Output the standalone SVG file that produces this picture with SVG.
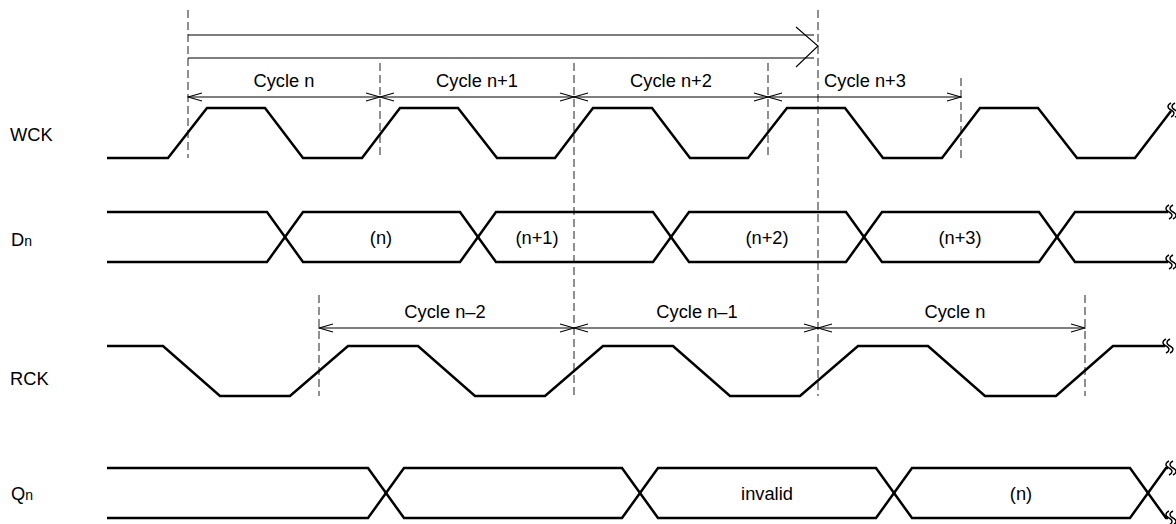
<svg xmlns="http://www.w3.org/2000/svg" width="1176" height="524" viewBox="0 0 1176 524">
<style>
  .sig{fill:none;stroke:#000;stroke-width:2.5;stroke-linejoin:miter}
  .dash{stroke:#555;stroke-width:1.3;stroke-dasharray:8 4;fill:none}
  .dim{stroke:#000;stroke-width:1.1;fill:none;marker-start:url(#oa);marker-end:url(#oa)}
  .brk{fill:none;stroke:#000;stroke-width:1.4}
  text{font-family:"Liberation Sans",Arial,sans-serif;font-size:18.3px;fill:#000}
  .mid{text-anchor:middle}
</style>
<defs>
  <marker id="oa" viewBox="-15 -5 16 10" refX="0" refY="0" markerWidth="16" markerHeight="10" markerUnits="userSpaceOnUse" orient="auto-start-reverse">
    <path d="M-14,-4 L0,0 L-14,4" fill="none" stroke="#000" stroke-width="1.1"/>
  </marker>
  <path id="sq" d="M1,-7 c-4,2 -4,5 0,7 c4,2 4,5 0,7 M5,-7 c-4,2 -4,5 0,7 c4,2 4,5 0,7"/>
</defs>

<g id="guides">
  <line class="dash" x1="188" y1="10" x2="188" y2="158"/>
  <line class="dash" x1="380" y1="63" x2="380" y2="158"/>
  <line class="dash" x1="574" y1="63" x2="574" y2="396"/>
  <line class="dash" x1="768" y1="63" x2="768" y2="158"/>
  <line class="dash" x1="818" y1="10" x2="818" y2="396"/>
  <line class="dash" x1="961" y1="78" x2="961" y2="158"/>
  <line class="dash" x1="319" y1="295" x2="319" y2="396"/>
  <line class="dash" x1="1085" y1="295" x2="1085" y2="396"/>
</g>

<g id="connectors">
  <g id="long-arrow">
    <line x1="188" y1="35" x2="814" y2="35" stroke="#000" stroke-width="1.1"/>
    <line x1="188" y1="58" x2="814" y2="58" stroke="#000" stroke-width="1.1"/>
    <path d="M796,27 L818,46 L796,67" fill="none" stroke="#000" stroke-width="1.1"/>
  </g>
  <line class="dim" x1="188" y1="97" x2="380" y2="97"/>
  <line class="dim" x1="380" y1="97" x2="574" y2="97"/>
  <line class="dim" x1="574" y1="97" x2="768" y2="97"/>
  <line class="dim" x1="768" y1="97" x2="961" y2="97"/>
  <line class="dim" x1="319" y1="328" x2="574" y2="328"/>
  <line class="dim" x1="574" y1="328" x2="818" y2="328"/>
  <line class="dim" x1="818" y1="328" x2="1085" y2="328"/>
</g>

<g id="cycle-labels">
  <text class="mid" x="284" y="87">Cycle n</text>
  <text class="mid" x="477" y="87">Cycle n+1</text>
  <text class="mid" x="671" y="87">Cycle n+2</text>
  <text class="mid" x="865" y="87">Cycle n+3</text>
  <text class="mid" x="445" y="318">Cycle n–2</text>
  <text class="mid" x="697" y="318">Cycle n–1</text>
  <text class="mid" x="955" y="318">Cycle n</text>
</g>

<g id="WCK">
  <text x="10" y="141">WCK</text>
  <path class="sig" d="M107,158 H168 L207,108 H265 L303,158 H362 L400,108 H458 L497,158 H555 L593,108 H652 L690,158 H748 L787,108 H845 L883,158 H942 L980,108 H1038 L1077,158 H1135 L1171,111"/>
  <use href="#sq" class="brk" x="1170" y="110"/>
</g>

<g id="Dn">
  <text x="11" y="246">D<tspan font-size="14">n</tspan></text>
  <path class="sig" d="M107,212 H267 L303,262 H460 L496,212 H653 L689,262 H846 L882,212 H1039 L1075,262 H1168"/>
  <path class="sig" d="M107,262 H267 L303,212 H460 L496,262 H653 L689,212 H846 L882,262 H1039 L1075,212 H1168"/>
  <use href="#sq" class="brk" x="1168" y="212"/>
  <use href="#sq" class="brk" x="1168" y="262"/>
  <text class="mid" x="381" y="244">(n)</text>
  <text class="mid" x="537" y="244">(n+1)</text>
  <text class="mid" x="767" y="244">(n+2)</text>
  <text class="mid" x="960" y="244">(n+3)</text>
</g>

<g id="RCK">
  <text x="10" y="385">RCK</text>
  <path class="sig" d="M107,346 H163 L220,396 H290 L348,346 H418 L475,396 H545 L603,346 H673 L730,396 H800 L858,346 H928 L985,396 H1056 L1113,346 H1165"/>
  <use href="#sq" class="brk" x="1165" y="346"/>
</g>

<g id="Qn">
  <text x="11" y="500">Q<tspan font-size="14">n</tspan></text>
  <path class="sig" d="M107,468 H368 L404,518 H622 L658,468 H876 L912,518 H1130 L1166,468 H1168"/>
  <path class="sig" d="M107,518 H368 L404,468 H622 L658,518 H876 L912,468 H1130 L1166,518 H1168"/>
  <use href="#sq" class="brk" x="1168" y="468"/>
  <use href="#sq" class="brk" x="1168" y="518"/>
  <text class="mid" x="767" y="500">invalid</text>
  <text class="mid" x="1021" y="500">(n)</text>
</g>
</svg>
